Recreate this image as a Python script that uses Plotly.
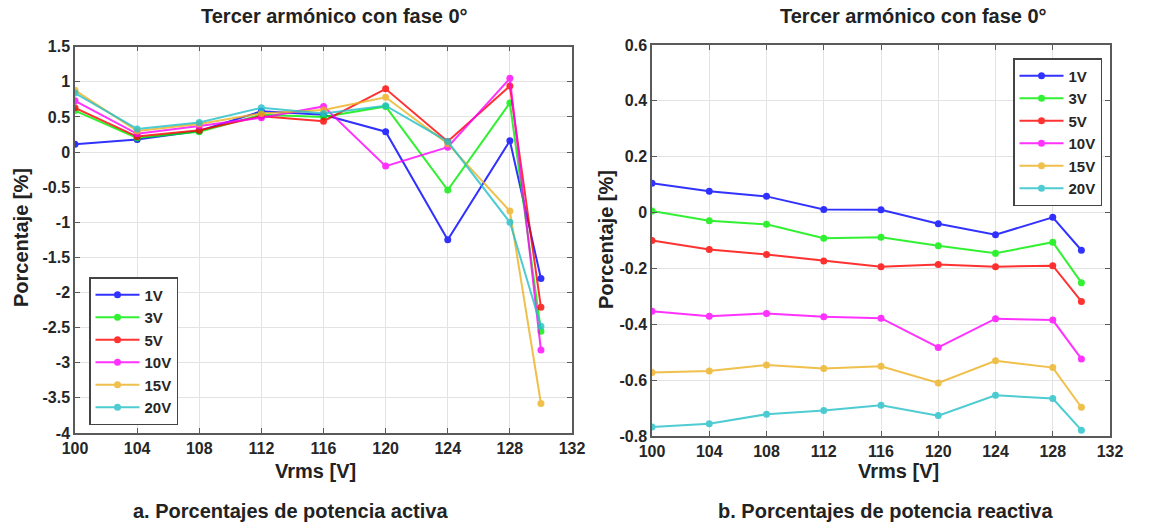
import plotly.graph_objects as go

vrms = [100, 104, 108, 112, 116, 120, 124, 128, 130]
series_names = ["1V", "3V", "5V", "10V", "15V", "20V"]
colors = ["#0000FF", "#00EE00", "#FF0000", "#FF00FF", "#EDB120", "#22C0C8"]

# a. active power percentages
p_1v = [0.11, 0.18, 0.30, 0.58, 0.53, 0.29, -1.25, 0.16, -1.80]
p_3v = [0.59, 0.20, 0.29, 0.53, 0.50, 0.65, -0.54, 0.70, -2.55]
p_5v = [0.63, 0.22, 0.31, 0.51, 0.44, 0.90, 0.15, 0.94, -2.21]
p_10v = [0.73, 0.26, 0.37, 0.49, 0.65, -0.20, 0.07, 1.05, -2.82]
p_15v = [0.88, 0.30, 0.40, 0.55, 0.60, 0.78, 0.12, -0.84, -3.58]
p_20v = [0.84, 0.33, 0.42, 0.63, 0.55, 0.66, 0.15, -1.00, -2.48]

# b. reactive power percentages
q_1v = [0.105, 0.076, 0.058, 0.011, 0.010, -0.040, -0.079, -0.017, -0.135]
q_3v = [0.006, -0.029, -0.042, -0.092, -0.088, -0.119, -0.146, -0.106, -0.251]
q_5v = [-0.100, -0.132, -0.150, -0.173, -0.194, -0.186, -0.194, -0.190, -0.318]
q_10v = [-0.353, -0.371, -0.361, -0.373, -0.378, -0.483, -0.380, -0.385, -0.524]
q_15v = [-0.573, -0.567, -0.546, -0.558, -0.550, -0.610, -0.531, -0.555, -0.697]
q_20v = [-0.768, -0.756, -0.722, -0.709, -0.690, -0.727, -0.654, -0.666, -0.779]

x_ticks = [100, 104, 108, 112, 116, 120, 124, 128, 132]
y_ticks_a = [1.5, 1, 0.5, 0, -0.5, -1, -1.5, -2, -2.5, -3, -3.5, -4]
y_ticks_b = [0.6, 0.4, 0.2, 0, -0.2, -0.4, -0.6, -0.8]

P = [p_1v, p_3v, p_5v, p_10v, p_15v, p_20v]
Q = [q_1v, q_3v, q_5v, q_10v, q_15v, q_20v]

W, H = 1172, 525


def fx(px):
    return px / W


def fy(py):
    return 1 - py / H


FONT = "Liberation Sans, Arial, sans-serif"
TXT = "#262626"

fig = go.Figure()
for name, col, ys in zip(series_names, colors, P):
    fig.add_trace(go.Scatter(x=vrms, y=ys, name=f"<b>{name}</b>", mode="lines+markers",
                             line=dict(color=col, width=2), marker=dict(color=col, size=7),
                             opacity=0.8, xaxis="x", yaxis="y", legend="legend"))
for name, col, ys in zip(series_names, colors, Q):
    fig.add_trace(go.Scatter(x=vrms, y=ys, name=f"<b>{name}</b>", mode="lines+markers",
                             line=dict(color=col, width=2), marker=dict(color=col, size=7),
                             opacity=0.8, xaxis="x2", yaxis="y2", legend="legend2"))

axis_common = dict(showgrid=True, gridcolor="#E3E3E3", gridwidth=1, zeroline=False,
                   showline=True, linecolor="#5A5A5A", linewidth=1.5, mirror="ticks",
                   ticks="inside", ticklen=5, tickcolor="#5A5A5A", automargin=False,
                   tickfont=dict(family=FONT, size=16, color=TXT))

fig.update_layout(
    width=W, height=H,
    margin=dict(l=0, r=0, t=0, b=0, autoexpand=False),
    paper_bgcolor="white", plot_bgcolor="white",
    xaxis=dict(domain=[fx(75), fx(572)], range=[100, 132], tickvals=x_ticks,
               ticktext=[f"<b>{v}</b>" for v in x_ticks], anchor="y", **axis_common),
    yaxis=dict(domain=[fy(433), fy(46.7)], range=[-4, 1.5], tickvals=y_ticks_a,
               ticktext=[f"<b>{v:g}</b>" for v in y_ticks_a], anchor="x", **axis_common),
    xaxis2=dict(domain=[fx(652), fx(1110)], range=[100, 132], tickvals=x_ticks,
                ticktext=[f"<b>{v}</b>" for v in x_ticks], anchor="y2", **axis_common),
    yaxis2=dict(domain=[fy(436), fy(45)], range=[-0.8, 0.6], tickvals=y_ticks_b,
                ticktext=[f"<b>{v:g}</b>" for v in y_ticks_b], anchor="x2", **axis_common),
    legend=dict(x=fx(89), y=fy(277), xanchor="left", yanchor="top",
                bgcolor="white", bordercolor="#444", borderwidth=1.5,
                font=dict(family=FONT, size=15, color=TXT), tracegroupgap=0,
                itemwidth=44),
    legend2=dict(x=fx(1013), y=fy(58), xanchor="left", yanchor="top",
                 bgcolor="white", bordercolor="#444", borderwidth=1.5,
                 font=dict(family=FONT, size=15, color=TXT), tracegroupgap=0,
                 itemwidth=44),
    showlegend=True,
)

annotations = [
    dict(text="<b>Tercer armónico con fase 0°</b>", x=334, y=16, size=20),
    dict(text="<b>Tercer armónico con fase 0°</b>", x=913, y=16, size=20),
    dict(text="<b>Vrms [V]</b>", x=315, y=471, size=20),
    dict(text="<b>Vrms [V]</b>", x=898, y=471, size=20),
    dict(text="<b>a. Porcentajes de potencia activa</b>", x=290, y=511, size=20),
    dict(text="<b>b. Porcentajes de potencia reactiva</b>", x=885, y=511, size=20),
    dict(text="<b>Porcentaje [%]</b>", x=21, y=238, size=20, angle=-90),
    dict(text="<b>Porcentaje [%]</b>", x=606, y=240, size=20, angle=-90),
]
for a in annotations:
    size = a.pop("size")
    angle = a.pop("angle", 0)
    fig.add_annotation(xref="paper", yref="paper", showarrow=False,
                       xanchor="center", yanchor="middle", textangle=angle,
                       x=fx(a["x"]), y=fy(a["y"]), text=a["text"],
                       font=dict(family=FONT, size=size, color="#222"))

fig.write_html("out.html", config={"displayModeBar": False},
               post_script="document.body.style.margin='0';document.body.style.overflow='hidden';")
